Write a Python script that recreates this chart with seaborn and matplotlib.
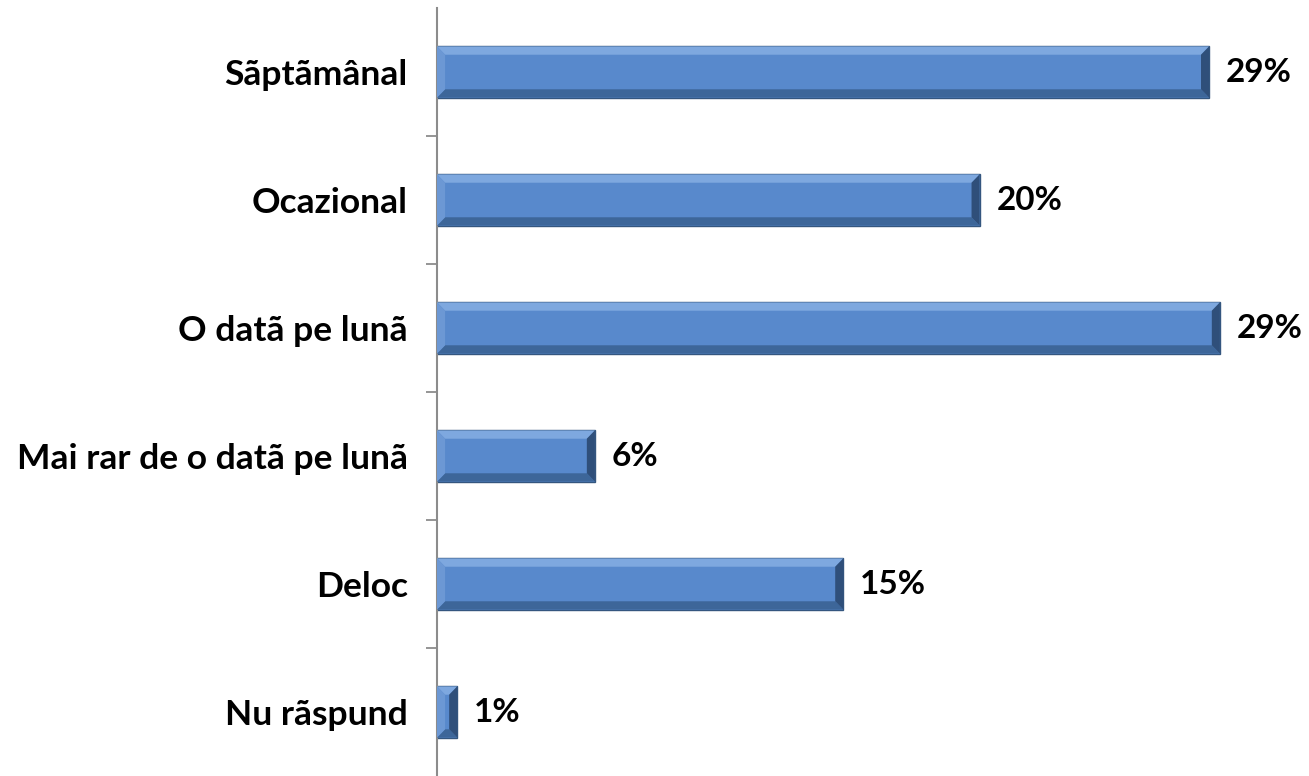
import matplotlib
matplotlib.use('Agg')
import matplotlib.pyplot as plt
import seaborn as sns
import pandas as pd
from matplotlib.ticker import FixedLocator
from matplotlib.patches import Polygon

categories = ['Sãptãmânal', 'Ocazional', 'O datã pe lunã',
              'Mai rar de o datã pe lunã', 'Deloc', 'Nu rãspund']
values = [28.6, 20.1, 29.0, 5.85, 15.05, 0.75]
labels = ['29%', '20%', '29%', '6%', '15%', '1%']

df = pd.DataFrame({'cat': categories, 'val': values})

sns.set_style('white')
plt.rcParams['font.family'] = ['Lato', 'DejaVu Sans']

fig = plt.figure(figsize=(13.09, 7.76), dpi=100)
ax = fig.add_axes([437 / 1309, 0.0, 1 - 437 / 1309, 1 - 8 / 776])

sns.barplot(data=df, x='val', y='cat', orient='h', color='#5889CC',
            saturation=1, width=0.4, edgecolor='#34567F', linewidth=1.0, ax=ax)

ax.set_xlim(0, 32.3)
ax.set_ylim(len(categories) - 0.5, -0.5)

# efect de relief (bevel) pe fiecare bara
bx, by = 0.3, 0.065
for p in list(ax.patches):
    x0, y0 = p.get_x(), p.get_y()
    x1, y1 = x0 + p.get_width(), y0 + p.get_height()
    b = min(bx, p.get_width() / 2.5)
    # y0 e sus (axa inversata)
    top = [(x0, y0), (x1, y0), (x1 - b, y0 + by), (x0 + b, y0 + by)]
    bot = [(x0, y1), (x1, y1), (x1 - b, y1 - by), (x0 + b, y1 - by)]
    right = [(x1, y0), (x1, y1), (x1 - b, y1 - by), (x1 - b, y0 + by)]
    left = [(x0, y0), (x0, y1), (x0 + b, y1 - by), (x0 + b, y0 + by)]
    for pts, c in [(top, '#7EA8DF'), (bot, '#3D6699'), (right, '#2F4F7A'), (left, '#6C98D4')]:
        ax.add_patch(Polygon(pts, closed=True, facecolor=c, edgecolor='none', zorder=3))

# etichete cu procente
for i, (v, lab) in enumerate(zip(values, labels)):
    ax.annotate(lab, xy=(v, i), xytext=(12, 0), textcoords='offset points',
                ha='left', va='center', fontsize=24, fontweight='bold', color='black')

ax.set_xlabel('')
ax.set_ylabel('')
ax.set_xticks([])

ax.yaxis.set_minor_locator(FixedLocator([i + 0.5 for i in range(len(categories) - 1)]))
ax.tick_params(axis='y', which='major', left=False, length=0, pad=21, labelsize=25.5,
               labelcolor='black')
ax.tick_params(axis='y', which='minor', left=True, length=8, width=1.3,
               color='#8C8C8C', direction='out')
for t in ax.get_yticklabels():
    t.set_fontweight('bold')

for s in ['top', 'right', 'bottom']:
    ax.spines[s].set_visible(False)
ax.spines['left'].set_color('#8C8C8C')
ax.spines['left'].set_linewidth(1.5)

fig.savefig('out.png', dpi=100)
